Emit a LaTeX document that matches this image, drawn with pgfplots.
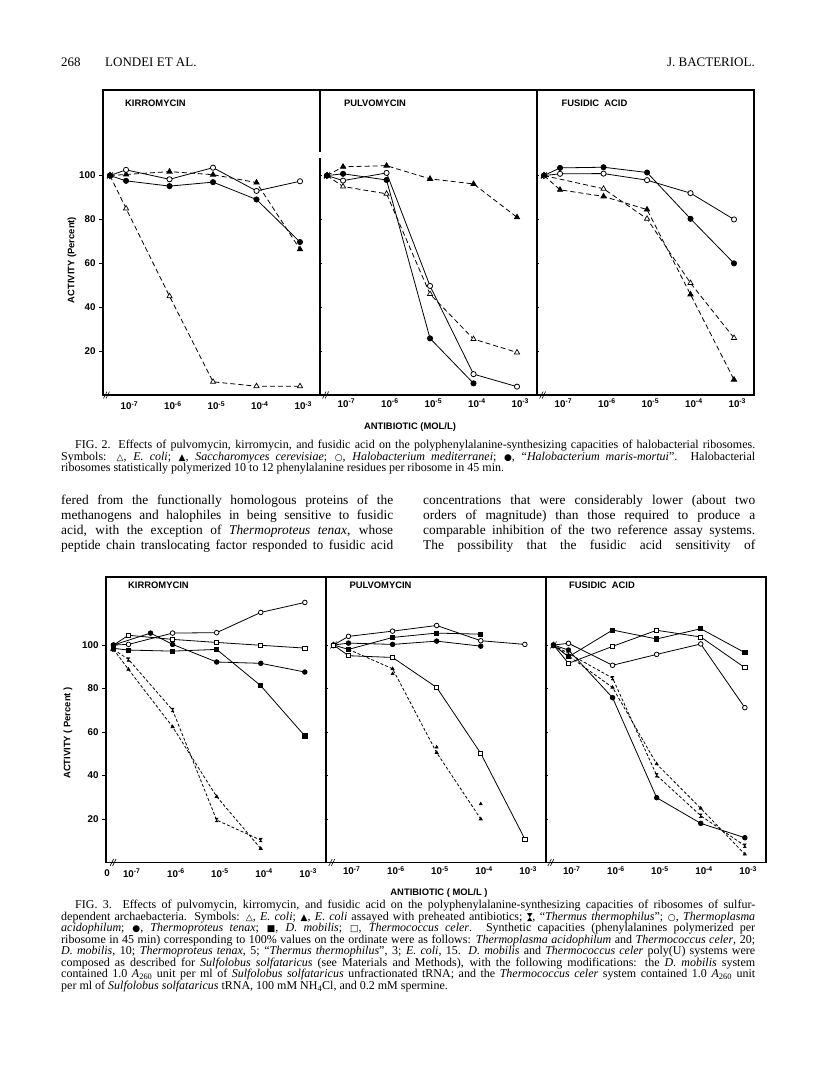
\documentclass[border=0pt]{standalone}
\usepackage{fontspec}
\setmainfont{Liberation Serif}
\newfontfamily\hv{Liberation Sans}
\newfontfamily\sym{DejaVu Sans}
\usepackage{graphicx}
\usepackage{pgfplots}
\pgfplotsset{compat=1.18}

\newcommand{\capfont}{\fontsize{12bp}{12bp}\selectfont}
\newcommand{\bodyfont}{\fontsize{13.4bp}{15bp}\selectfont}
\newcommand{\lab}{\hv\bfseries\fontsize{9.4bp}{10bp}\selectfont}
\newcommand{\sy}[1]{{\sym\fontsize{9bp}{9bp}\selectfont #1}}
\newcommand{\hg}{\tikz[baseline=-0.6ex]\fill (-0.22em,0.33em)--(0.22em,0.33em)--(-0.22em,-0.33em)--(0.22em,-0.33em)--cycle;}
\newcommand{\J}[4]{\node[anchor=base west,inner sep=0pt] at (#1bp,#2bp) {\makebox[#3bp][s]{#4}};}
\newcommand{\Lf}[3]{\node[anchor=base west,inner sep=0pt] at (#1bp,#2bp) {#3};}
\newcommand{\brk}[2]{\draw[line width=0.6bp,solid] (axis cs:#1,#2) ++(-3bp,-3.5bp) -- ++(3.5bp,7bp) (axis cs:#1,#2) ++(-0.5bp,-3.5bp) -- ++(3.5bp,7bp);}

\pgfdeclareplotmark{hourglass}{%
  \pgfpathmoveto{\pgfqpoint{-0.75\pgfplotmarksize}{\pgfplotmarksize}}%
  \pgfpathlineto{\pgfqpoint{0.75\pgfplotmarksize}{\pgfplotmarksize}}%
  \pgfpathlineto{\pgfqpoint{-0.75\pgfplotmarksize}{-\pgfplotmarksize}}%
  \pgfpathlineto{\pgfqpoint{0.75\pgfplotmarksize}{-\pgfplotmarksize}}%
  \pgfpathclose
  \pgfusepathqfillstroke}

\pgfplotsset{
  panel/.style={scale only axis, clip=false,
    axis line style={line width=1.1bp},
    tick style={line width=0.8bp, black},
    major tick length=4bp,
    ticklabel style={font=\hv\bfseries\fontsize{9.8bp}{10bp}\selectfont},
    xtick={-7,-6,-5,-4,-3},
    xticklabels={10\rlap{\textsuperscript{-7}},10\rlap{\textsuperscript{-6}},10\rlap{\textsuperscript{-5}},10\rlap{\textsuperscript{-4}},10\rlap{\textsuperscript{-3}}},
    xtick style={draw=none},
    x tick label style={yshift=1bp},
    ytick pos=left, yticklabels={},
    ytick={20,40,60,80,100}},
  firstp/.style={tick align=outside, yticklabels={20,40,60,80,100}},
  otherp/.style={tick align=center, major tick length=3bp},
  f2/.style={panel, width=217bp, height=305bp, xmin=-7.53, xmax=-2.54, ymin=0, ymax=139},
  f3/.style={panel, width=220bp, height=285.5bp, xmin=-7.51, xmax=-2.52, ymin=0, ymax=131.3},
  base/.style={black, line width=0.8bp, solid},
  oc/.style={base, mark=*, mark options={solid, fill=white, line width=0.8bp}},
  fc/.style={base, mark=*, mark options={solid, fill=black}},
  ot/.style={base, mark=triangle*, mark options={solid, fill=white, line width=0.7bp}},
  ft/.style={base, mark=triangle*, mark options={solid, fill=black}},
  os/.style={base, mark=square*, mark options={solid, fill=white, line width=0.8bp}},
  fs/.style={base, mark=square*, mark options={solid, fill=black}},
  hgm/.style={base, mark=hourglass, mark options={solid, fill=black, line width=0.4bp}},
  d2/.style={dash pattern=on 5bp off 3bp},
  d3/.style={dash pattern=on 3bp off 2bp},
}

\begin{document}
\begin{tikzpicture}
\path[use as bounding box, fill=white] (0,0) rectangle (816bp,1085bp);

% ---------- running head ----------
\node[anchor=base west,inner sep=0pt,font=\fontsize{13bp}{15bp}\selectfont] at (61bp,1018bp) {268};
\node[anchor=base west,inner sep=0pt,font=\fontsize{13bp}{15bp}\selectfont] at (105bp,1018bp) {LONDEI ET AL.};
\node[anchor=base east,inner sep=0pt,font=\fontsize{13bp}{15bp}\selectfont] at (755bp,1018bp) {J. BACTERIOL.};

% ================= FIG. 2 =================
% Kirromycin
\begin{axis}[f2, firstp, at={(103bp,995bp)}, anchor=north west]
\addplot[ot, d2, mark size=3bp] coordinates {(-7.37,100)(-7,85)(-6,45)(-5,6)(-4,4)(-3,4)};
\addplot[ft, d2, mark size=3bp] coordinates {(-7.37,100)(-7,100.5)(-6,101.8)(-5,100.4)(-4,96.8)(-3,66.4)};
\addplot[oc, mark size=2.6bp] coordinates {(-7.37,100)(-7,102.6)(-6,98.3)(-5,103.6)(-4,93)(-3,97.4)};
\addplot[fc, mark size=2.6bp] coordinates {(-7.37,100)(-7,97.6)(-6,95.2)(-5,97)(-4,89.1)(-3,69.7)};
\brk{-7.37}{100}
\brk{-7.45}{0}
\end{axis}
% Pulvomycin
\begin{axis}[f2, otherp, at={(320bp,995bp)}, anchor=north west]
\addplot[ft, d2, mark size=3bp] coordinates {(-7.37,100)(-7,104)(-6,104.5)(-5,98.5)(-4,96.2)(-3,81)};
\addplot[ot, d2, mark size=3bp] coordinates {(-7.37,100)(-7,95)(-6,91.7)(-5,46)(-4,25.5)(-3,19.4)};
\addplot[oc, mark size=2.6bp] coordinates {(-7.37,100)(-7,97.7)(-6,101.2)(-5,49.7)(-4,9.5)(-3,3.8)};
\addplot[fc, mark size=2.6bp] coordinates {(-7.37,100)(-7,100.8)(-6,98)(-5,25.8)(-4,5.3)};
\brk{-7.37}{100}
\brk{-7.4}{0}
\end{axis}
% Fusidic acid
\begin{axis}[f2, otherp, at={(537bp,995bp)}, anchor=north west]
\addplot[fc, mark size=2.6bp] coordinates {(-7.37,100)(-7,103.5)(-6,103.8)(-5,101.4)(-4,80.3)(-3,60)};
\addplot[oc, mark size=2.6bp] coordinates {(-7.37,100)(-7,100.8)(-6,100.9)(-5,97.9)(-4,92)(-3,80)};
\addplot[ot, d2, mark size=3bp] coordinates {(-7.37,100)(-6,94)(-5,80.3)(-4,51)(-3,26)};
\addplot[ft, d2, mark size=3bp] coordinates {(-7.37,100)(-7,93.5)(-6,90.5)(-5,84.5)(-4,45.8)(-3,7)};
\brk{-7.37}{100}
\brk{-7.4}{0}
\end{axis}
\fill[white] (318.5bp,927bp) rectangle (321.5bp,933bp);

\node[font=\lab] at (155.5bp,982bp) {KIRROMYCIN};
\node[font=\lab] at (375bp,982bp) {PULVOMYCIN};
\node[font=\lab] at (594.5bp,982bp) {FUSIDIC\ \ ACID};
\node[font=\lab, rotate=90] at (72bp,825bp) {ACTIVITY (Percent)};
\node[font=\lab] at (410bp,658bp) {ANTIBIOTIC (MOL/L)};

% caption Fig. 2
\begin{scope}[font=\capfont]
\J{75}{636}{680}{FIG. 2. Effects of pulvomycin, kirromycin, and fusidic acid on the polyphenylalanine-synthesizing capacities of halobacterial ribosomes.}
\J{61}{624.5}{694}{Symbols: \sy{△}, \textit{E. coli}; \sy{▲}, \textit{Saccharomyces cerevisiae}; \sy{○}, \textit{Halobacterium mediterranei}; \sy{●}, ``\textit{Halobacterium maris-mortui}''. Halobacterial}
\Lf{61}{613}{ribosomes statistically polymerized 10 to 12 phenylalanine residues per ribosome in 45 min.}
\end{scope}

% body text
\begin{scope}[font=\bodyfont]
\J{61}{580}{332}{fered from the functionally homologous proteins of the}
\J{61}{565}{332}{methanogens and halophiles in being sensitive to fusidic}
\J{61}{550}{332}{acid, with the exception of \textit{Thermoproteus tenax}, whose}
\J{61}{535}{332}{peptide chain translocating factor responded to fusidic acid}
\J{423}{580}{332}{concentrations that were considerably lower (about two}
\J{423}{565}{332}{orders of magnitude) than those required to produce a}
\J{423}{550}{332}{comparable inhibition of the two reference assay systems.}
\J{423}{535}{332}{The possibility that the fusidic acid sensitivity of}
\end{scope}

% ================= FIG. 3 =================
% Kirromycin
\begin{axis}[f3, firstp, at={(106bp,508bp)}, anchor=north west]
\addplot[oc, mark size=2.3bp] coordinates {(-7.34,100)(-7,100.3)(-6,105.5)(-5,105.7)(-4,115)(-3,119.6)};
\addplot[os, mark size=2.1bp] coordinates {(-7.34,100)(-7,104.5)(-6,102.6)(-5,101.2)(-4,99.9)(-3,98.6)};
\addplot[fc, mark size=2.3bp] coordinates {(-7.34,100)(-6.5,105.5)(-6,100.3)(-5,92.2)(-4,91.6)(-3,87.6)};
\addplot[fs, mark size=2.1bp] coordinates {(-7.34,98.5)(-7,97.7)(-6,97.2)(-5,98)(-4,81.3)(-3,58.2)};
\addplot[hgm, d3, mark size=1.9bp] coordinates {(-7.34,98)(-7,93.4)(-6,70.1)(-5,19.5)(-4,10.3)};
\addplot[ft, d3, mark size=1.7bp] coordinates {(-7.34,98)(-7,88.8)(-6,62.4)(-5,30.3)(-4,6.4)};
\brk{-7.34}{99}
\brk{-7.35}{0}
\end{axis}
% Pulvomycin
\begin{axis}[f3, otherp, at={(326bp,508bp)}, anchor=north west]
\addplot[oc, mark size=2.3bp] coordinates {(-7.34,100)(-7,104)(-6,106.4)(-5,109)(-4,102)(-3,100.3)};
\addplot[fs, mark size=2.1bp] coordinates {(-7.34,100)(-7,98)(-6,103.5)(-5,105.5)(-4,105)};
\addplot[fc, mark size=2.3bp] coordinates {(-7.34,100)(-7,100.9)(-6,100.3)(-5,101.8)(-4,99.5)};
\addplot[os, mark size=2.1bp] coordinates {(-7.34,100)(-7,95.1)(-6,94.3)(-5,80.5)(-4,50.2)(-3,10.8)};
\addplot[ft, d3, mark size=1.7bp] coordinates {(-7,98)(-6,89.1)(-5,50.5)(-4,20)};
\addplot[ot, only marks, mark size=1.8bp, mark options={line width=0.5bp}] coordinates {(-6,86.8)(-5,53)(-4,26.9)};
\brk{-7.34}{100}
\brk{-7.38}{0}
\end{axis}
% Fusidic acid
\begin{axis}[f3, otherp, at={(546bp,508bp)}, anchor=north west]
\addplot[oc, mark size=2.3bp] coordinates {(-7.34,100)(-7,100.8)(-6,90.7)(-5,95.7)(-4,100.5)(-3,71.2)};
\addplot[fs, mark size=2.1bp] coordinates {(-7.34,100)(-7,94.6)(-6,106.9)(-5,102.8)(-4,107.5)(-3,96.5)};
\addplot[os, mark size=2.1bp] coordinates {(-7.34,100)(-7,91.6)(-6,99.4)(-5,106.8)(-4,103.7)(-3,89.6)};
\addplot[fc, mark size=2.3bp] coordinates {(-7.34,100)(-7,97.7)(-6,75.8)(-5,29.8)(-4,18)(-3,11.4)};
\addplot[hgm, d3, mark size=1.9bp] coordinates {(-7.34,100)(-6,84.8)(-5,40.1)(-4,21.5)(-3,7.7)};
\addplot[ft, d3, mark size=1.7bp] coordinates {(-7.34,100)(-6,80.5)(-5,45.3)(-4,24.9)(-3,3.8)};
\brk{-7.34}{100}
\brk{-7.4}{0}
\end{axis}

\node[font=\lab] at (158.5bp,500bp) {KIRROMYCIN};
\node[font=\lab] at (380.5bp,500bp) {PULVOMYCIN};
\node[font=\lab] at (602bp,500bp) {FUSIDIC\ \ ACID};
\node[font=\lab, rotate=90] at (68bp,352bp) {ACTIVITY ( Percent )};
\node[font=\lab] at (439bp,192bp) {ANTIBIOTIC ( MOL/L )};
\node[font=\hv\bfseries\fontsize{9.8bp}{10bp}\selectfont] at (107bp,212bp) {0};

% caption Fig. 3
\begin{scope}[font=\capfont]
\J{75}{176}{680}{FIG. 3. Effects of pulvomycin, kirromycin, and fusidic acid on the polyphenylalanine-synthesizing capacities of ribosomes of sulfur-}
\J{61}{164.5}{694}{dependent archaebacteria. Symbols: \sy{△}, \textit{E. coli}; \sy{▲}, \textit{E. coli} assayed with preheated antibiotics; \hg, ``\textit{Thermus thermophilus}''; \sy{○}, \textit{Thermoplasma}}
\J{61}{153}{694}{\textit{acidophilum}; \sy{●}, \textit{Thermoproteus tenax}; \sy{■}, \textit{D. mobilis}; \sy{□}, \textit{Thermococcus celer}. Synthetic capacities (phenylalanines polymerized per}
\J{61}{141.5}{694}{ribosome in 45 min) corresponding to 100\% values on the ordinate were as follows: \textit{Thermoplasma acidophilum} and \textit{Thermococcus celer}, 20;}
\J{61}{130}{694}{\textit{D. mobilis}, 10; \textit{Thermoproteus tenax}, 5; ``\textit{Thermus thermophilus}'', 3; \textit{E. coli}, 15. \textit{D. mobilis} and \textit{Thermococcus celer} poly(U) systems were}
\J{61}{118.5}{694}{composed as described for \textit{Sulfolobus solfataricus} (see Materials and Methods), with the following modifications: the \textit{D. mobilis} system}
\J{61}{107}{694}{contained 1.0 \textit{A}\textsubscript{260} unit per ml of \textit{Sulfolobus solfataricus} unfractionated tRNA; and the \textit{Thermococcus celer} system contained 1.0 \textit{A}\textsubscript{260} unit}
\Lf{61}{95.5}{per ml of \textit{Sulfolobus solfataricus} tRNA, 100 mM NH\textsubscript{4}Cl, and 0.2 mM spermine.}
\end{scope}
\end{tikzpicture}
\end{document}
